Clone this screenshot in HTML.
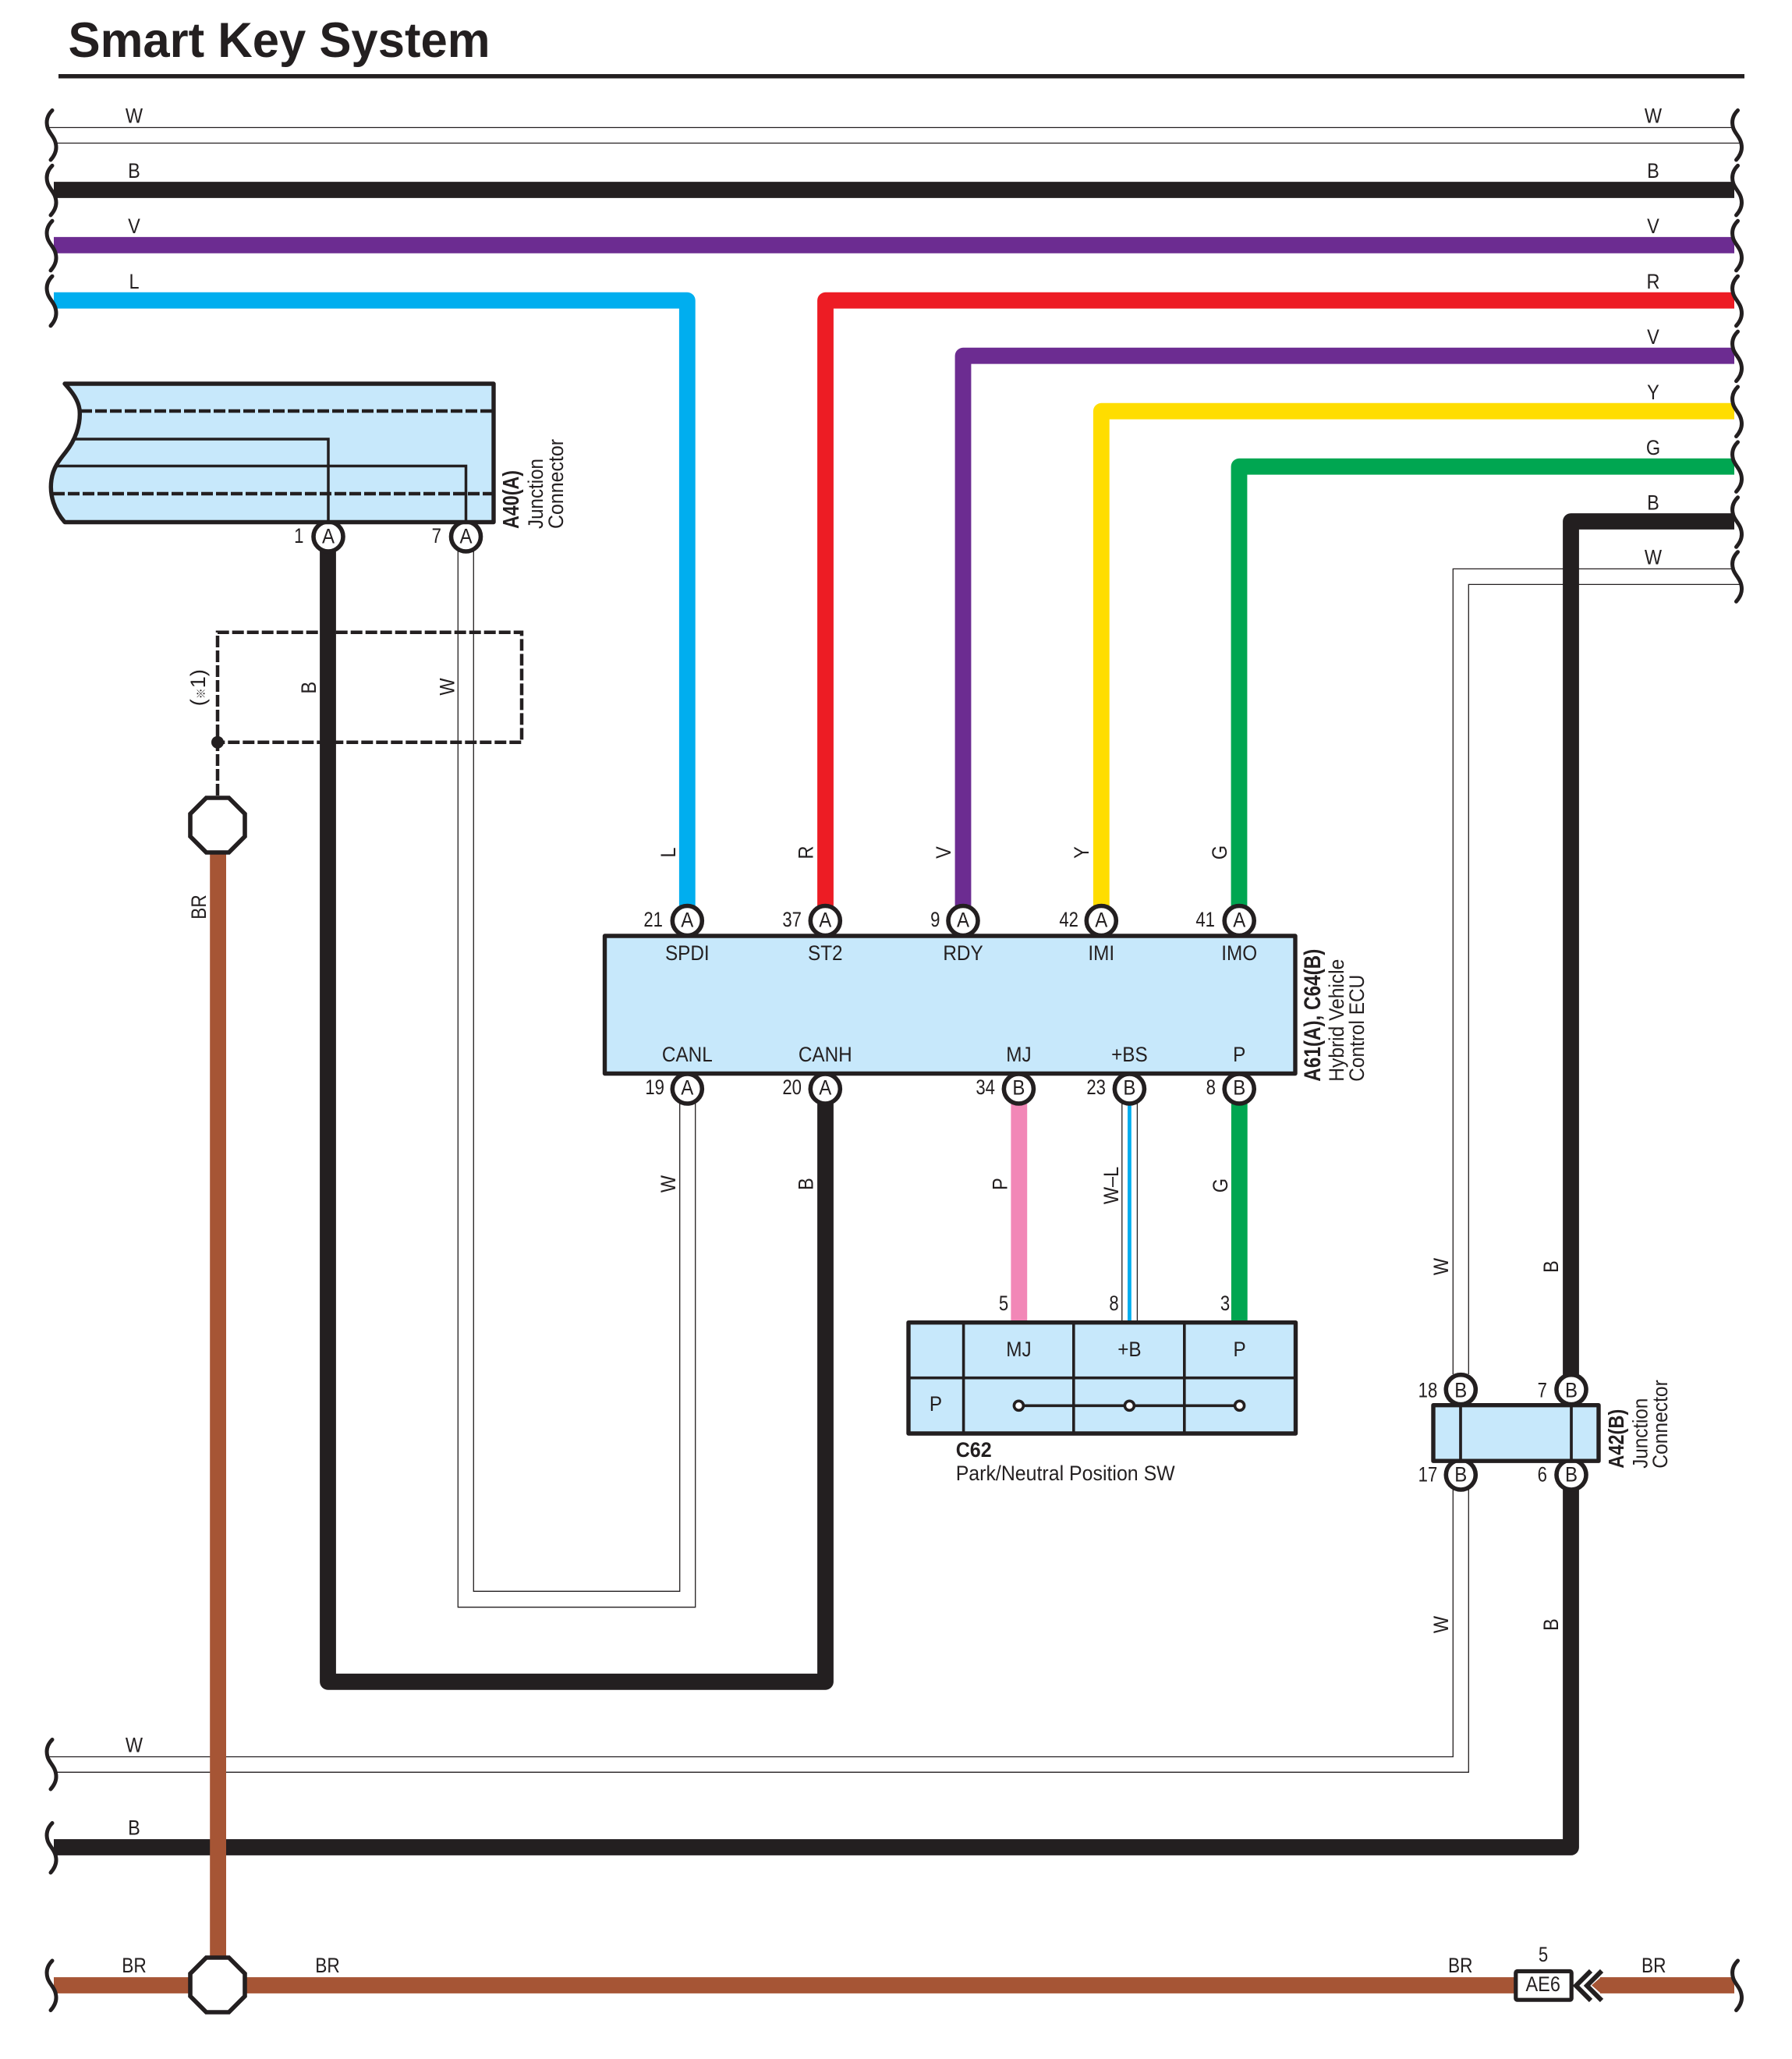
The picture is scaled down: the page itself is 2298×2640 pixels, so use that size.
<!DOCTYPE html>
<html lang="en">
<head>
<meta charset="utf-8">
<title>Smart Key System</title>
<style>
html,body{margin:0;padding:0;background:#fff}
svg{display:block}
text{font-family:"Liberation Sans","Noto Sans CJK JP",sans-serif;font-size:27px;fill:#231f20}
.m{text-anchor:middle}
.e{text-anchor:end}
.b{font-weight:bold}
.w{fill:none;stroke:#231f20;stroke-width:1.3}
.t{fill:none;stroke-width:20.8;stroke-linejoin:round;stroke-linecap:butt}
.c{fill:#fff;stroke:#231f20;stroke-width:5.6}
.d{fill:none;stroke:#231f20;stroke-width:4.5;stroke-dasharray:15 4}
.k{fill:none;stroke:#231f20}
.f{fill:#c7e8fb;stroke:#231f20;stroke-width:5.4;stroke-linejoin:round}
.q{fill:none;stroke:#231f20;stroke-width:5;stroke-linecap:round}
</style>
</head>
<body>
<svg xmlns="http://www.w3.org/2000/svg" width="2298" height="2640" viewBox="0 0 2298 2640">
<defs>
<path id="s" class="q" d="M67,-32 C60,-25 59,-17 61,-10 C63,-2 72,3 72,15.5 C72,22 69,27 65,31.5"/>
<polygon id="o" class="c" points="-14.5,-35 14.5,-35 35,-14.5 35,14.5 14.5,35 -14.5,35 -35,14.5 -35,-14.5"/>
</defs>
<rect width="2298" height="2640" fill="#fff"/>

<!-- Title -->
<text x="87.5" y="73" class="b" style="font-size:63px" textLength="541" lengthAdjust="spacingAndGlyphs">Smart Key System</text>
<rect x="75" y="95" width="2162" height="5.5" fill="#231f20"/>

<!-- Dashed shield -->
<path class="d" d="M279,1020 V810.7 H669 V951.7 H279"/>
<circle cx="279" cy="951.7" r="8" fill="#231f20"/>

<!-- Thin white wires -->
<path class="w" d="M62,163.5 H2222"/>
<path class="w" d="M72,183.5 H2233"/>
<path class="w" d="M1863.3,1762 V729.4 H2222"/>
<path class="w" d="M1883.3,1762 V749.4 H2233"/>
<path class="w" d="M1863.3,1905 V2252.5 H62"/>
<path class="w" d="M1883.3,1905 V2272.3 H72"/>
<path class="w" d="M587.3,705 V2060.7 H891.7 V1410"/>
<path class="w" d="M607.3,705 V2040.3 H871.7 V1410"/>
<path class="w" d="M1438.8,1410 V1695"/>
<path class="w" d="M1458.4,1410 V1695"/>
<rect x="1446" y="1410" width="4.8" height="285" fill="#00aeef"/>

<!-- Thick wires -->
<path class="t" stroke="#231f20" d="M69,243.5 H2224"/>
<path class="t" stroke="#6c2c91" d="M69,314.3 H2224"/>
<path class="t" stroke="#00aeef" d="M69,385.2 H881.3 V1162"/>
<path class="t" stroke="#ed1c24" d="M2224,385.2 H1058.5 V1162"/>
<path class="t" stroke="#6c2c91" d="M2224,456.2 H1235 V1162"/>
<path class="t" stroke="#ffdd00" d="M2224,527.2 H1412.3 V1162"/>
<path class="t" stroke="#00a651" d="M2224,598.2 H1589 V1162"/>
<path class="t" stroke="#231f20" d="M2224,668.5 H2014.5 V1765"/>
<path class="t" stroke="#231f20" d="M420.5,705 V2156.3 H1058.5 V1410"/>
<path class="t" stroke="#231f20" d="M69,2368.5 H2014.5 V1905"/>
<path class="t" stroke="#f287b7" d="M1306.8,1410 V1695"/>
<path class="t" stroke="#00a651" d="M1589.3,1410 V1695"/>

<!-- Brown -->
<path class="t" stroke="#a65535" d="M69,2545.5 H1945"/>
<path class="t" stroke="#a65535" d="M279.6,1090 V2510"/>
<path class="t" stroke="#a65535" d="M2052,2545.5 H2224"/>
<polygon fill="#a65535" points="2041,2545.5 2053,2535 2053,2556"/>

<!-- Ground octagons -->
<use href="#o" transform="translate(279,1058)"/>
<use href="#o" transform="translate(279,2545)"/>

<!-- Pin circles -->
<circle class="c" cx="421" cy="688" r="19"/>
<circle class="c" cx="597.5" cy="688" r="19"/>
<circle class="c" cx="881.3" cy="1180.5" r="19"/>
<circle class="c" cx="1058.3" cy="1180.5" r="19"/>
<circle class="c" cx="1235" cy="1180.5" r="19"/>
<circle class="c" cx="1412.3" cy="1180.5" r="19"/>
<circle class="c" cx="1589.2" cy="1180.5" r="19"/>
<circle class="c" cx="881.3" cy="1396" r="19"/>
<circle class="c" cx="1058.3" cy="1396" r="19"/>
<circle class="c" cx="1306.4" cy="1396" r="19"/>
<circle class="c" cx="1448.4" cy="1396" r="19"/>
<circle class="c" cx="1589.2" cy="1396" r="19"/>
<circle class="c" cx="1873.3" cy="1781.7" r="19"/>
<circle class="c" cx="2015" cy="1781.7" r="19"/>
<circle class="c" cx="1873.3" cy="1891" r="19"/>
<circle class="c" cx="2015" cy="1891" r="19"/>

<!-- A40 connector -->
<path class="f" d="M83,492 H633 V669.5 H83 C70,655 63,635 66,615 C68,600 76,590 84,580 C96,565 104,545 102,525 C100,512 92,502 83,492 Z"/>
<path class="d" d="M103,527 H633"/>
<path class="d" d="M68,633 H633"/>
<path class="k" stroke-width="3.5" d="M96,563 H421 V669"/>
<path class="k" stroke-width="3.5" d="M74,597.5 H597.5 V669"/>

<!-- ECU box -->
<rect class="f" x="775.5" y="1200" width="885.5" height="176.5"/>

<!-- C62 -->
<rect class="f" x="1165" y="1695.7" width="496.5" height="142.3"/>
<path class="k" stroke-width="3.6" d="M1235.6,1696 V1838 M1376.8,1696 V1838 M1518.8,1696 V1838 M1165,1766.7 H1661.5 M1306.4,1802.3 H1589.6"/>
<circle cx="1306.4" cy="1802.3" r="6" fill="#fff" stroke="#231f20" stroke-width="3.6"/>
<circle cx="1448.4" cy="1802.3" r="6" fill="#fff" stroke="#231f20" stroke-width="3.6"/>
<circle cx="1589.6" cy="1802.3" r="6" fill="#fff" stroke="#231f20" stroke-width="3.6"/>

<!-- A42 -->
<rect class="f" x="1838" y="1801.7" width="212" height="71.5"/>
<path class="k" stroke-width="3.7" d="M1873,1802 V1873 M2015,1802 V1873"/>

<!-- AE6 -->
<rect x="1943.8" y="2527.5" width="71.4" height="36.7" rx="2" fill="#fff" stroke="#231f20" stroke-width="5.2"/>
<path class="k" stroke-width="6" stroke-linejoin="miter" d="M2040,2527 L2021,2546 L2040,2565 M2054,2527 L2035,2546 L2054,2565"/>

<!-- Squiggles left -->
<use href="#s" transform="translate(0,173.5)"/>
<use href="#s" transform="translate(0,244.4)"/>
<use href="#s" transform="translate(0,315.3)"/>
<use href="#s" transform="translate(0,386.2)"/>
<use href="#s" transform="translate(0,2262.5)"/>
<use href="#s" transform="translate(0,2369.5)"/>
<use href="#s" transform="translate(0,2546)"/>
<!-- Squiggles right -->
<use href="#s" transform="translate(2161.5,173.5)"/>
<use href="#s" transform="translate(2161.5,244.4)"/>
<use href="#s" transform="translate(2161.5,315.3)"/>
<use href="#s" transform="translate(2161.5,386.2)"/>
<use href="#s" transform="translate(2161.5,457.1)"/>
<use href="#s" transform="translate(2161.5,528)"/>
<use href="#s" transform="translate(2161.5,598.9)"/>
<use href="#s" transform="translate(2161.5,669.8)"/>
<use href="#s" transform="translate(2161.5,739.7)"/>
<use href="#s" transform="translate(2161.5,2546)"/>

<!-- Horizontal wire labels left -->
<text class="m" transform="translate(172,157.5) scale(.87,1)">W</text>
<text class="m" transform="translate(172,228) scale(.87,1)">B</text>
<text class="m" transform="translate(172,299) scale(.87,1)">V</text>
<text class="m" transform="translate(172,370) scale(.87,1)">L</text>
<text class="m" transform="translate(172,2246.5) scale(.87,1)">W</text>
<text class="m" transform="translate(172,2352.5) scale(.87,1)">B</text>
<text class="m" transform="translate(172,2529) scale(.84,1)">BR</text>
<text class="m" transform="translate(420,2529) scale(.84,1)">BR</text>
<text class="m" transform="translate(1872.7,2529) scale(.84,1)">BR</text>
<text class="m" transform="translate(2120.7,2529) scale(.84,1)">BR</text>
<!-- Right labels -->
<text class="m" transform="translate(2120,157.5) scale(.87,1)">W</text>
<text class="m" transform="translate(2120,228) scale(.87,1)">B</text>
<text class="m" transform="translate(2120,299) scale(.87,1)">V</text>
<text class="m" transform="translate(2120,370) scale(.87,1)">R</text>
<text class="m" transform="translate(2120,441) scale(.87,1)">V</text>
<text class="m" transform="translate(2120,512) scale(.87,1)">Y</text>
<text class="m" transform="translate(2120,583) scale(.87,1)">G</text>
<text class="m" transform="translate(2120,653.5) scale(.87,1)">B</text>
<text class="m" transform="translate(2120,723.5) scale(.87,1)">W</text>

<!-- Rotated wire labels -->
<text class="m" transform="translate(405,881.7) rotate(-90) scale(.87,1)">B</text>
<text class="m" transform="translate(582.7,880.5) rotate(-90) scale(.87,1)">W</text>
<text class="m" transform="translate(263,881.7) rotate(-90)">(<tspan style="font-size:14px">※</tspan>1)</text>
<text class="m" transform="translate(264,1163) rotate(-90) scale(.84,1)">BR</text>
<text class="m" transform="translate(866,1093) rotate(-90) scale(.87,1)">L</text>
<text class="m" transform="translate(1042.7,1093) rotate(-90) scale(.87,1)">R</text>
<text class="m" transform="translate(1219,1093) rotate(-90) scale(.87,1)">V</text>
<text class="m" transform="translate(1396,1093) rotate(-90) scale(.87,1)">Y</text>
<text class="m" transform="translate(1573,1093) rotate(-90) scale(.87,1)">G</text>
<text class="m" transform="translate(866,1518) rotate(-90) scale(.87,1)">W</text>
<text class="m" transform="translate(1042.7,1518) rotate(-90) scale(.87,1)">B</text>
<text class="m" transform="translate(1291.5,1518) rotate(-90) scale(.87,1)">P</text>
<text class="m" transform="translate(1434,1520) rotate(-90) scale(.87,1)">W–L</text>
<text class="m" transform="translate(1574,1520) rotate(-90) scale(.87,1)">G</text>
<text class="m" transform="translate(1857,1624) rotate(-90) scale(.87,1)">W</text>
<text class="m" transform="translate(1998,1624) rotate(-90) scale(.87,1)">B</text>
<text class="m" transform="translate(1857,2083) rotate(-90) scale(.87,1)">W</text>
<text class="m" transform="translate(1998,2083) rotate(-90) scale(.87,1)">B</text>

<!-- Pin letters -->
<text class="m" transform="translate(421,696.5) scale(.89,1)">A</text>
<text class="m" transform="translate(597.5,696.5) scale(.89,1)">A</text>
<text class="m" transform="translate(881.3,1188.5) scale(.89,1)">A</text>
<text class="m" transform="translate(1058.3,1188.5) scale(.89,1)">A</text>
<text class="m" transform="translate(1235,1188.5) scale(.89,1)">A</text>
<text class="m" transform="translate(1412.3,1188.5) scale(.89,1)">A</text>
<text class="m" transform="translate(1589.2,1188.5) scale(.89,1)">A</text>
<text class="m" transform="translate(881.3,1403.5) scale(.89,1)">A</text>
<text class="m" transform="translate(1058.3,1403.5) scale(.89,1)">A</text>
<text class="m" transform="translate(1306.4,1403.5) scale(.89,1)">B</text>
<text class="m" transform="translate(1448.4,1403.5) scale(.89,1)">B</text>
<text class="m" transform="translate(1589.2,1403.5) scale(.89,1)">B</text>
<text class="m" transform="translate(1873.3,1791.7) scale(.89,1)">B</text>
<text class="m" transform="translate(2015,1791.7) scale(.89,1)">B</text>
<text class="m" transform="translate(1873.3,1899.5) scale(.89,1)">B</text>
<text class="m" transform="translate(2015,1899.5) scale(.89,1)">B</text>

<!-- Pin numbers -->
<text class="e" transform="translate(389.5,696) scale(.82,1)">1</text>
<text class="e" transform="translate(566,696) scale(.82,1)">7</text>
<text class="e" transform="translate(850,1188) scale(.82,1)">21</text>
<text class="e" transform="translate(1028,1188) scale(.82,1)">37</text>
<text class="e" transform="translate(1205.5,1188) scale(.82,1)">9</text>
<text class="e" transform="translate(1383,1188) scale(.82,1)">42</text>
<text class="e" transform="translate(1558,1188) scale(.82,1)">41</text>
<text class="e" transform="translate(852,1403) scale(.82,1)">19</text>
<text class="e" transform="translate(1028,1403) scale(.82,1)">20</text>
<text class="e" transform="translate(1276,1403) scale(.82,1)">34</text>
<text class="e" transform="translate(1418,1403) scale(.82,1)">23</text>
<text class="e" transform="translate(1559,1403) scale(.82,1)">8</text>
<text class="m" transform="translate(1287,1680) scale(.82,1)">5</text>
<text class="m" transform="translate(1428.5,1680) scale(.82,1)">8</text>
<text class="m" transform="translate(1571,1680) scale(.82,1)">3</text>
<text class="e" transform="translate(1843.3,1791.7) scale(.82,1)">18</text>
<text class="e" transform="translate(1984,1791.7) scale(.82,1)">7</text>
<text class="e" transform="translate(1843.3,1899.3) scale(.82,1)">17</text>
<text class="e" transform="translate(1984,1899.3) scale(.82,1)">6</text>
<text class="m" transform="translate(1979,2515) scale(.82,1)">5</text>
<text class="m" transform="translate(1978.7,2553) scale(.87,1)">AE6</text>

<!-- ECU terminals -->
<text class="m" transform="translate(881.3,1231) scale(.9,1)">SPDI</text>
<text class="m" transform="translate(1058.3,1231) scale(.9,1)">ST2</text>
<text class="m" transform="translate(1235,1231) scale(.9,1)">RDY</text>
<text class="m" transform="translate(1412.3,1231) scale(.9,1)">IMI</text>
<text class="m" transform="translate(1589.2,1231) scale(.9,1)">IMO</text>
<text class="m" transform="translate(881.3,1361) scale(.9,1)">CANL</text>
<text class="m" transform="translate(1058.3,1361) scale(.9,1)">CANH</text>
<text class="m" transform="translate(1306.4,1361) scale(.9,1)">MJ</text>
<text class="m" transform="translate(1448.4,1361) scale(.9,1)">+BS</text>
<text class="m" transform="translate(1589.2,1361) scale(.9,1)">P</text>

<!-- C62 terminals -->
<text class="m" transform="translate(1306.4,1739) scale(.9,1)">MJ</text>
<text class="m" transform="translate(1448.4,1739) scale(.9,1)">+B</text>
<text class="m" transform="translate(1589.6,1739) scale(.9,1)">P</text>
<text class="m" transform="translate(1200,1809) scale(.9,1)">P</text>
<text class="b" x="1225.7" y="1868" textLength="46" lengthAdjust="spacingAndGlyphs">C62</text>
<text x="1225.7" y="1898" textLength="281" lengthAdjust="spacingAndGlyphs">Park/Neutral Position SW</text>

<!-- Rotated component names -->
<text class="b" style="font-size:29px" transform="translate(665,678) rotate(-90)" textLength="75" lengthAdjust="spacingAndGlyphs">A40(A)</text>
<text transform="translate(696,678) rotate(-90)" textLength="90" lengthAdjust="spacingAndGlyphs">Junction</text>
<text transform="translate(722,678) rotate(-90)" textLength="115" lengthAdjust="spacingAndGlyphs">Connector</text>
<text class="b" style="font-size:30px" transform="translate(1693,1386.7) rotate(-90)" textLength="170" lengthAdjust="spacingAndGlyphs">A61(A), C64(B)</text>
<text transform="translate(1723,1386.7) rotate(-90)" textLength="157" lengthAdjust="spacingAndGlyphs">Hybrid Vehicle</text>
<text transform="translate(1749,1386.7) rotate(-90)" textLength="137" lengthAdjust="spacingAndGlyphs">Control ECU</text>
<text class="b" style="font-size:28px" transform="translate(2082,1882.7) rotate(-90)" textLength="76" lengthAdjust="spacingAndGlyphs">A42(B)</text>
<text transform="translate(2112.7,1882.7) rotate(-90)" textLength="90" lengthAdjust="spacingAndGlyphs">Junction</text>
<text transform="translate(2138,1882.7) rotate(-90)" textLength="113.5" lengthAdjust="spacingAndGlyphs">Connector</text>
</svg>
</body>
</html>
